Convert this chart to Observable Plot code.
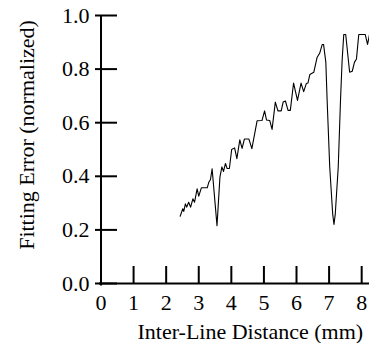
<!DOCTYPE html>
<html>
<head>
<meta charset="utf-8">
<script src="https://cdn.jsdelivr.net/npm/d3@7"></script>
<script src="https://cdn.jsdelivr.net/npm/@observablehq/plot@0.6"></script>
<style>
  html, body { margin: 0; padding: 0; background: #fff; }
  #chart { width: 369px; height: 343px; overflow: hidden; }
</style>
</head>
<body>
<div id="chart"></div>
<script>
const distance = [2.43,2.51,2.54,2.59,2.63,2.69,2.75,2.82,2.87,2.95,3.00,3.08,3.26,3.31,3.36,3.41,3.56,3.65,3.71,3.76,3.82,3.87,3.94,4.01,4.10,4.17,4.26,4.33,4.40,4.54,4.63,4.79,4.94,5.02,5.08,5.18,5.25,5.35,5.43,5.53,5.59,5.66,5.74,5.81,5.91,6.03,6.14,6.22,6.30,6.35,6.41,6.53,6.63,6.71,6.79,6.83,6.90,6.94,7.02,7.11,7.15,7.19,7.28,7.35,7.40,7.45,7.51,7.63,7.71,7.78,7.84,7.91,8.11,8.18,8.24];
const fittingError = [0.251,0.279,0.269,0.297,0.285,0.303,0.285,0.316,0.303,0.353,0.326,0.357,0.357,0.378,0.388,0.428,0.216,0.397,0.435,0.418,0.448,0.429,0.429,0.500,0.506,0.466,0.536,0.504,0.539,0.539,0.503,0.607,0.608,0.644,0.610,0.608,0.575,0.677,0.644,0.644,0.677,0.681,0.646,0.646,0.748,0.683,0.748,0.716,0.746,0.748,0.780,0.788,0.843,0.859,0.892,0.892,0.825,0.683,0.434,0.260,0.220,0.260,0.434,0.683,0.832,0.929,0.929,0.788,0.792,0.826,0.838,0.929,0.929,0.892,0.929];
const xTicks = [0,1,2,3,4,5,6,7,8];
const yTicks = [0.0,0.2,0.4,0.6,0.8,1.0];
const xLabel = "Inter-Line Distance (mm)";
const yLabel = "Fitting Error (normalized)";

const data = distance.map((d, i) => ({distance: d, error: fittingError[i]}));
const font = "'Liberation Serif', 'Times New Roman', Times, serif";

const chart = Plot.plot({
  width: 369,
  height: 343,
  marginLeft: 100.5,
  marginRight: 0,
  marginTop: 15,
  marginBottom: 60,
  style: {fontFamily: font, fontSize: "22px", background: "#fff", color: "#000"},
  x: {domain: [0, 8.24]},
  y: {domain: [0, 1]},
  marks: [
    Plot.axisY(yTicks, {tickSize: 0, tickPadding: 11.5, tickFormat: d3.format(".1f"), fontSize: 22, label: null}),
    Plot.axisX(xTicks, {tickSize: 0, tickPadding: 11, tickFormat: d3.format("d"), fontSize: 22, label: null}),
    Plot.tickY(yTicks, {y: d => d, stroke: "#000", strokeWidth: 2, insetLeft: -5.5, insetRight: 252}),
    Plot.tickX(xTicks.filter(d => d > 0), {x: d => d, stroke: "#000", strokeWidth: 2, insetTop: 251}),
    Plot.ruleY([0], {stroke: "#000", strokeWidth: 2, insetLeft: -1.5}),
    Plot.ruleX([0], {stroke: "#000", strokeWidth: 2, insetBottom: -2.5}),
    Plot.line(data, {x: "distance", y: "error", stroke: "#000", strokeWidth: 1.1}),
    Plot.text([xLabel], {frameAnchor: "bottom-left", textAnchor: "start", lineAnchor: "middle", dx: 36.5, dy: 48.3, fontSize: 22, fill: "#000"}),
    Plot.text([yLabel], {frameAnchor: "left", textAnchor: "middle", lineAnchor: "middle", rotate: -90, dx: -74.5, dy: -14.5, fontSize: 22, fill: "#000"})
  ]
});
document.getElementById("chart").appendChild(chart);
</script>
</body>
</html>
